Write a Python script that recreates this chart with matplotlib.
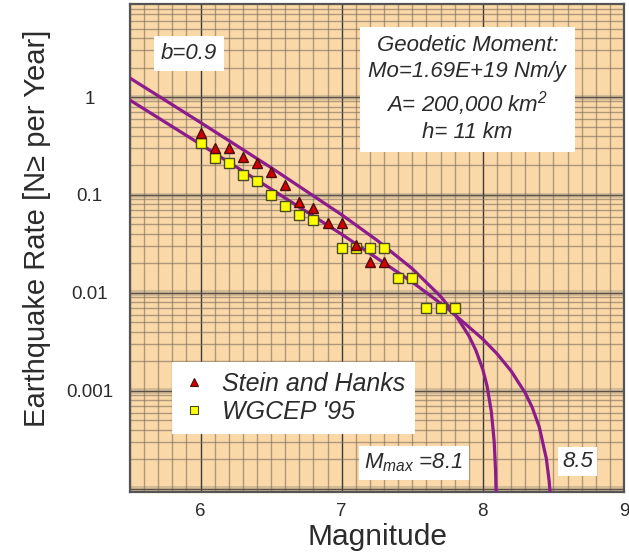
import matplotlib
matplotlib.use('Agg')
import matplotlib.pyplot as plt
from matplotlib.lines import Line2D
from matplotlib.ticker import MultipleLocator, LogLocator, NullFormatter, FixedLocator

plt.rcParams['font.family'] = ['Liberation Sans', 'DejaVu Sans']
plt.rcParams['mathtext.fontset'] = 'custom'
plt.rcParams['mathtext.it'] = 'Liberation Sans:italic'
plt.rcParams['mathtext.rm'] = 'Liberation Sans:italic'

# Stein and Hanks (triangles)
sh_mag = [6.0, 6.1, 6.2, 6.3, 6.4, 6.5, 6.6, 6.7, 6.8, 6.9, 7.0, 7.1, 7.2, 7.3]
sh_rate = [0.43, 0.30, 0.30, 0.244, 0.212, 0.172, 0.126, 0.085, 0.074, 0.052, 0.052, 0.031, 0.0207, 0.0207]

# WGCEP '95 (squares)
wg_mag = [6.0, 6.1, 6.2, 6.3, 6.4, 6.5, 6.6, 6.7, 6.8, 7.0, 7.1, 7.2, 7.3, 7.4, 7.5, 7.6, 7.7, 7.8]
wg_rate = [0.34, 0.239, 0.212, 0.160, 0.139, 0.100, 0.077, 0.0625, 0.0556, 0.0288, 0.0288, 0.0288, 0.0288,
           0.0142, 0.0142, 0.00703, 0.00703, 0.00703]

# moment-balanced curves, Mmax = 8.1 and Mmax = 8.5
c81_mag = [5.5, 6.0, 6.5, 7.0, 7.25, 7.5, 7.7, 7.8, 7.9, 7.95, 8.0, 8.03, 8.06, 8.08, 8.09, 8.095]
c81_rate = [1.56, 0.549, 0.190, 0.0628, 0.0345, 0.0177, 0.00925, 0.00617, 0.00367, 0.00261, 0.00165,
            0.00112, 0.000615, 0.000307, 0.000154, 0.000077]
c85_mag = [5.5, 6.0, 6.5, 7.0, 7.5, 7.75, 8.0, 8.1, 8.2, 8.3, 8.35, 8.4, 8.45, 8.47, 8.48]
c85_rate = [0.929, 0.329, 0.115, 0.0397, 0.0129, 0.00693, 0.00338, 0.0024, 0.0016, 0.000955, 0.000677,
            0.000427, 0.000203, 0.000119, 0.000078]

xticks = [6, 7, 8, 9]
yticks = [1, 0.1, 0.01, 0.001]
ytick_labels = ['1', '0.1', '0.01', '0.001']

txt = '#2b2b2b'
purple = '#8c1c8c'

fig = plt.figure(figsize=(6.29, 5.58), dpi=100)
ax = fig.add_axes([130 / 629, 1 - 492 / 558, 494 / 629, 488 / 558])
ax.set_facecolor('#fbd8a8')
ax.set_yscale('log')
ax.set_xlim(5.5, 9)
ax.set_ylim(9.3e-5, 8.9)

# grid
ax.xaxis.set_major_locator(FixedLocator(xticks))
ax.xaxis.set_minor_locator(MultipleLocator(0.1))
ax.yaxis.set_major_locator(FixedLocator(yticks))
ax.yaxis.set_minor_locator(LogLocator(base=10, subs=range(2, 10), numticks=20))
ax.yaxis.set_minor_formatter(NullFormatter())
ax.set_yticklabels(ytick_labels)
ax.grid(which='minor', color='#7d6e5c', linewidth=1.0, alpha=0.6)
ax.grid(which='major', axis='x', color='#3a3a3a', linewidth=1.0)
for d in [10, 1, 0.1, 0.01, 0.001, 0.0001]:
    ax.axhspan(d * 0.94, d * 1.06, color='#9a9080', alpha=0.4, lw=0, zorder=0.5)
    ax.axhline(d, color='#5a5048', lw=1.0, zorder=0.6)
ax.set_axisbelow(True)

ax.plot(c81_mag, c81_rate, color=purple, lw=2.3, zorder=3)
ax.plot(c85_mag, c85_rate, color=purple, lw=2.3, zorder=3)

ax.plot(wg_mag, wg_rate, ls='none', marker='s', ms=7.5, mfc='#ffff00', mec='#4a4a20', mew=1.0, zorder=4)
ax.plot(sh_mag, sh_rate, ls='none', marker='^', ms=7.5, mfc='#d40000', mec='#4a1010', mew=1.0, zorder=5)

for s in ax.spines.values():
    s.set_color('#555555')
    s.set_linewidth(1.6)

ax.tick_params(which='both', length=0)
ax.tick_params(axis='x', labelsize=13.5, pad=8, colors=txt)
ax.tick_params(axis='y', labelsize=13.5, pad=29, colors=txt)
for lab in ax.get_yticklabels():
    lab.set_horizontalalignment('center')

ax.set_xlabel('Magnitude', fontsize=21.5, color=txt, labelpad=2)
ax.set_ylabel('Earthquake Rate [N\u2265 per Year]', fontsize=21, color=txt)
ax.yaxis.set_label_coords(-0.16, 0.54)

ax.text(5.92, 2.8, 'b=0.9', fontsize=16, style='italic', color=txt, ha='center', va='center',
        bbox=dict(facecolor='white', edgecolor='none', pad=5))

ax.text(7.89, 1.2,
        'Geodetic Moment:\nMo=1.69E+19 Nm/y\nA= 200,000 km$^2$\nh= 11 km',
        fontsize=16, style='italic', color=txt, ha='center', va='center', linespacing=1.3,
        bbox=dict(facecolor='white', edgecolor='none', pad=6))

ax.text(7.51, 0.000185, r'$M_{max}$ =8.1', fontsize=16, style='italic', color=txt,
        ha='center', va='center', bbox=dict(facecolor='white', edgecolor='none', pad=4))
ax.text(8.67, 0.00019, '8.5', fontsize=16, style='italic', color=txt, ha='center', va='center',
        bbox=dict(facecolor='white', edgecolor='none', pad=3))

handles = [Line2D([], [], ls='none', marker='^', ms=6, mfc='#d40000', mec='#4a1010', mew=0.8),
           Line2D([], [], ls='none', marker='s', ms=6, mfc='#ffff00', mec='#4a4a20', mew=0.8)]
leg = ax.legend(handles, ['Stein and Hanks', "WGCEP '95"], loc='upper left',
                bbox_to_anchor=(0.085, 0.266), frameon=True, fancybox=False, framealpha=1,
                edgecolor='none', borderaxespad=0, borderpad=0.4, handletextpad=0.6,
                labelspacing=0.15, handlelength=1.0, prop={'size': 18, 'style': 'italic'})
for t in leg.get_texts():
    t.set_color(txt)
leg.set_zorder(6)

fig.savefig('out.png', dpi=100)
